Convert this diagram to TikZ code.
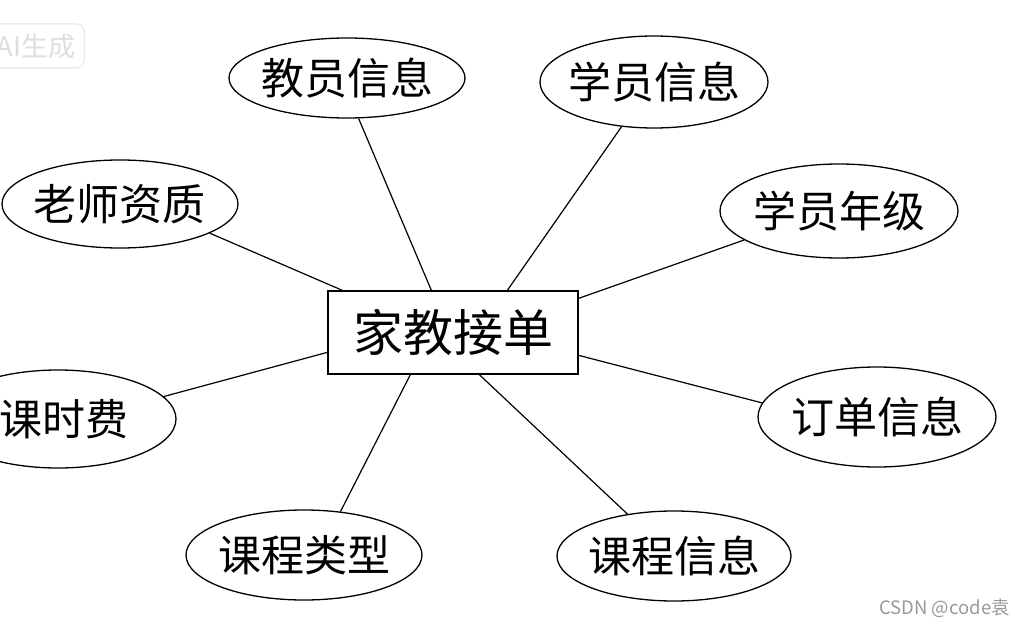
\documentclass[tikz,border=0pt]{standalone}
\usepackage{fontspec}
\setmainfont{Noto Sans CJK SC}
\usetikzlibrary{shapes.geometric}
\begin{document}
\begin{tikzpicture}[x=1pt,y=-1pt,
  attr/.style={draw=black, line width=1.3pt, ellipse, inner sep=0pt,
    minimum width=236pt, minimum height=88pt},
  attrtext/.style={font=\fontsize{43}{47}\selectfont},
  entity/.style={draw=black, line width=1.3pt, rectangle, inner sep=0pt,
    minimum width=250pt, minimum height=83pt, font=\fontsize{50}{54}\selectfont},
  link/.style={line width=1.2pt, draw=black}]
\useasboundingbox (0,0) rectangle (1015,626);
\clip (0,0) rectangle (1015,626);
\fill[white] (0,0) rectangle (1015,626);

% watermark boxes
\node[draw=black!8, line width=1.5pt, rounded corners=8pt, fill=white, text=black!13,
  font=\fontsize{27}{29}\selectfont, inner xsep=9pt, minimum height=44pt, anchor=east] (wm1) at (85,46) {AI生成};
\node[text=black!40, font=\fontsize{18.5}{20}\selectfont, anchor=east, inner sep=0pt] (wm2) at (1010,608) {CSDN @code袁};

% entity
\node[entity] (c) at (453,332.5) {家教接单};

% attributes
\node[attr, minimum width=236pt, minimum height=80pt, label={[attrtext]center:教员信息}] (e1) at (347,78) {};
\node[attr, minimum width=228pt, minimum height=92pt, label={[attrtext]center:学员信息}] (e2) at (654,82) {};
\node[attr, minimum width=236pt, minimum height=88pt, label={[attrtext]center:老师资质}] (e3) at (120,204) {};
\node[attr, minimum width=238pt, minimum height=94pt, label={[attrtext]center:学员年级}] (e4) at (839,211) {};
\node[attr, minimum width=236pt, minimum height=98pt] (e5) at (58,419) {};
\node[attrtext] (t5) at (64,419) {课时费};
\node[attr, minimum width=238pt, minimum height=100pt, label={[attrtext]center:订单信息}] (e6) at (877,417) {};
\node[attr, minimum width=236pt, minimum height=90pt, label={[attrtext]center:课程类型}] (e7) at (304,555) {};
\node[attr, minimum width=234pt, minimum height=90pt, label={[attrtext]center:课程信息}] (e8) at (674,556) {};

% connectors
\draw[link] (e1.286.8) -- ([xshift=104pt]c.north west);
\draw[link] (e2.234.6) -- ([xshift=180pt]c.north west);
\draw[link] (e3.342.5) -- ([xshift=15pt]c.north west);
\draw[link] (e4.197.7) -- ([yshift=-8pt]c.north east);
\draw[link] (e5.12.1) -- ([yshift=-62pt]c.north west);
\draw[link] (e6.173.5) -- ([yshift=-65pt]c.north east);
\draw[link] (e7.50.7) -- ([xshift=83pt]c.south west);
\draw[link] (e8.138.7) -- ([xshift=152pt]c.south west);
\end{tikzpicture}
\end{document}
